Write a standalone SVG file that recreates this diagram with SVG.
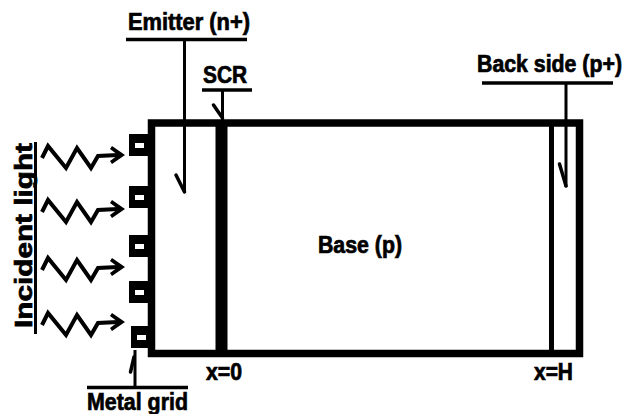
<svg xmlns="http://www.w3.org/2000/svg" width="633" height="414" viewBox="0 0 633 414">
<style>
text{font-family:"Liberation Sans",Arial,sans-serif;font-weight:bold;font-size:23px;fill:#000;stroke:#000;stroke-width:0.7}
.bar{stroke:#000;stroke-width:3.5;fill:none}
.lead{stroke:#000;stroke-width:3;fill:none}
.barb{stroke:#000;stroke-width:3.5;fill:none;stroke-linecap:round}
.wave{stroke:#000;stroke-width:4;fill:none;stroke-linejoin:miter}
.head{fill:#000;stroke:none}
.wall{stroke:#000;stroke-width:7.5;fill:none}
</style>
<rect width="633" height="414" fill="#fff"/>

<g id="device">
<rect class="wall" x="151.5" y="123" width="428" height="230.5"/>
<rect x="215.5" y="120" width="12" height="236" fill="#000"/>
<line x1="551.5" y1="120" x2="551.5" y2="356" stroke="#000" stroke-width="5"/>
</g>

<g id="metal-grid">
<rect x="129" y="134" width="19" height="22" fill="#000"/><rect x="135" y="143" width="9" height="5" fill="#fff"/>
<rect x="129" y="186" width="19" height="22" fill="#000"/><rect x="135" y="195" width="9" height="5" fill="#fff"/>
<rect x="129" y="235" width="19" height="22" fill="#000"/><rect x="135" y="244" width="9" height="5" fill="#fff"/>
<rect x="129" y="281" width="19" height="22" fill="#000"/><rect x="135" y="290" width="9" height="5" fill="#fff"/>
<rect x="131" y="326" width="19" height="22" fill="#000"/><rect x="137" y="335" width="9" height="5" fill="#fff"/>
<line class="bar" x1="87" y1="387.5" x2="188" y2="387.5"/>
<text x="87" y="410" textLength="101" lengthAdjust="spacingAndGlyphs">Metal grid</text>
</g>

<g id="incident-light">
<line x1="35.5" y1="142" x2="35.5" y2="334" stroke="#000" stroke-width="3"/>
<text transform="translate(32,235.5) rotate(-90)" text-anchor="middle" textLength="185" lengthAdjust="spacingAndGlyphs">Incident light</text>
<path class="wave" d="M42,158 L48,146 L66,168 L77,148 L91,168 L98,156 L118,155"/>
<polygon class="head" points="112,146 125,155 112,164 110,161 118,155 110,149"/>
<path class="wave" d="M42,212 L48,200 L66,222 L77,202 L91,222 L98,210 L118,209"/>
<polygon class="head" points="112,200 125,209 112,218 110,215 118,209 110,203"/>
<path class="wave" d="M42,270 L48,258 L66,280 L77,260 L91,280 L98,268 L118,267"/>
<polygon class="head" points="112,258 125,267 112,276 110,273 118,267 110,261"/>
<path class="wave" d="M42,325 L48,313 L66,335 L77,315 L91,335 L98,323 L118,322"/>
<polygon class="head" points="112,313 125,322 112,331 110,328 118,322 110,316"/>
</g>

<g id="emitter">
<text x="128" y="30" textLength="122" lengthAdjust="spacingAndGlyphs">Emitter (n+)</text>
<line class="bar" x1="126" y1="39.5" x2="247" y2="39.5"/>
</g>

<g id="scr">
<text x="203" y="83" textLength="44" lengthAdjust="spacingAndGlyphs">SCR</text>
<line class="bar" x1="202" y1="90" x2="252" y2="90"/>
</g>

<g id="back-side">
<text x="477" y="72" textLength="145" lengthAdjust="spacingAndGlyphs">Back side (p+)</text>
<line class="bar" x1="482" y1="83" x2="613" y2="83"/>
</g>

<g id="base">
<text x="318" y="253" textLength="84" lengthAdjust="spacingAndGlyphs">Base (p)</text>
</g>

<g id="x0">
<text x="206" y="380" textLength="36" lengthAdjust="spacingAndGlyphs">x=0</text>
</g>
<g id="xH">
<text x="534" y="380" textLength="39" lengthAdjust="spacingAndGlyphs">x=H</text>
</g>

<g id="connectors">
<line class="lead" x1="184.5" y1="40" x2="184.5" y2="193"/>
<line class="barb" x1="176" y1="175" x2="184.5" y2="192"/>
<line class="lead" x1="222.5" y1="90" x2="222.5" y2="121"/>
<line class="barb" x1="213.5" y1="105" x2="222.5" y2="118"/>
<line class="lead" x1="566" y1="83" x2="566" y2="187"/>
<line class="barb" x1="559.5" y1="164" x2="566" y2="186"/>
<line class="lead" x1="135" y1="387" x2="135" y2="350"/>
<line class="barb" x1="134" y1="357" x2="130.5" y2="372"/>
</g>
</svg>
